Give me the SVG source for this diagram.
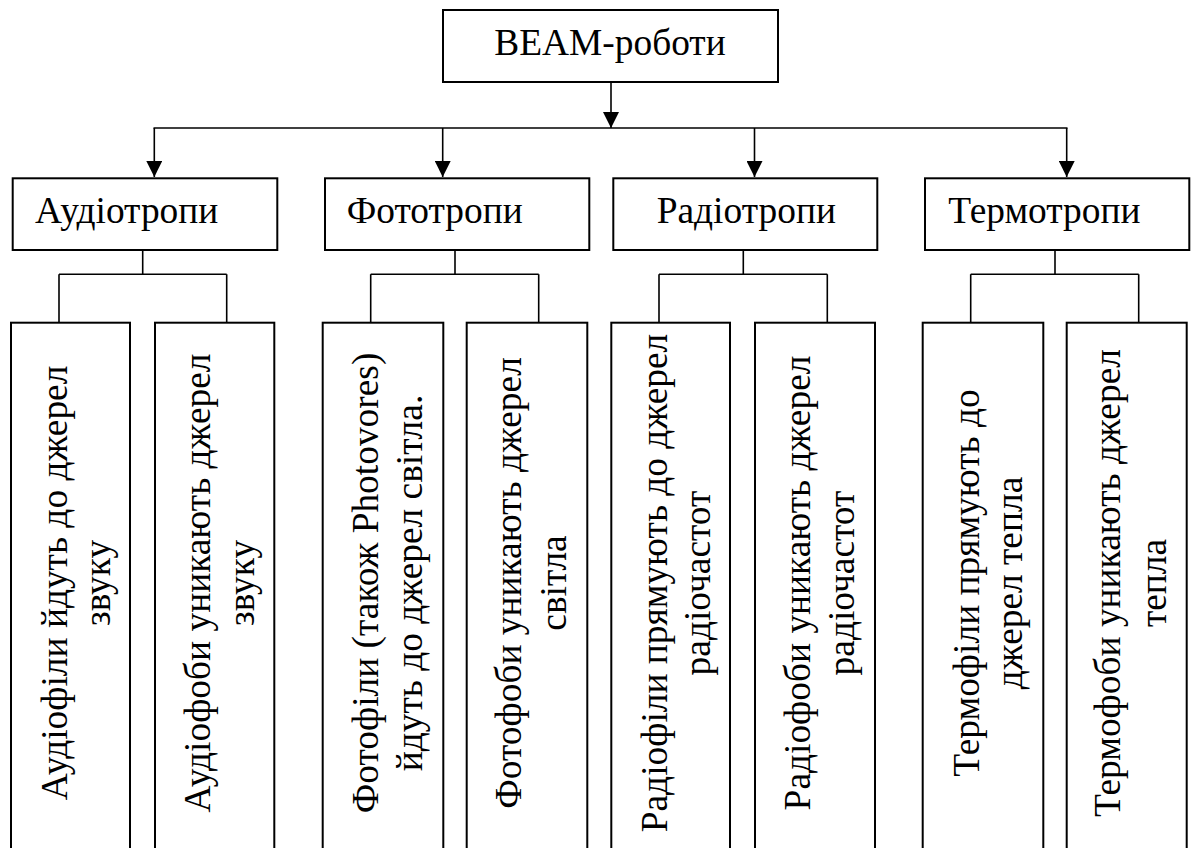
<svg xmlns="http://www.w3.org/2000/svg" width="1197" height="848" viewBox="0 0 1197 848">
<style>
.box{fill:#fff;stroke:#000;stroke-width:2}
.ln{fill:none;stroke:#000;stroke-width:1.6}
.t{font-family:'Liberation Serif','Times New Roman',serif;font-size:37.4px;fill:#000}
.v{text-anchor:middle}
</style>
<defs>
<marker id="arr" markerUnits="userSpaceOnUse" markerWidth="16" markerHeight="16" viewBox="0 0 16 16" refX="8" refY="16" orient="0">
<path d="M0,0 L16,0 L8,16 Z" fill="#000"/>
</marker>
</defs>
<rect width="1197" height="848" fill="#fff"/>
<g id="connectors">
<line class="ln" x1="611" y1="82" x2="611" y2="128" marker-end="url(#arr)"/>
<line class="ln" x1="153.5" y1="128" x2="1067.5" y2="128"/>
<line class="ln" x1="154.3" y1="128" x2="154.3" y2="177" marker-end="url(#arr)"/>
<line class="ln" x1="442.7" y1="128" x2="442.7" y2="177" marker-end="url(#arr)"/>
<line class="ln" x1="754.5" y1="128" x2="754.5" y2="177" marker-end="url(#arr)"/>
<line class="ln" x1="1066.7" y1="128" x2="1066.7" y2="177" marker-end="url(#arr)"/>
<path class="ln" d="M142.7,250 V274.3 M59,274.3 H226.7 M59,274.3 V322.7 M226.7,274.3 V322.7"/>
<path class="ln" d="M455,250 V274.3 M370.7,274.3 H538.7 M370.7,274.3 V322.7 M538.7,274.3 V322.7"/>
<path class="ln" d="M743.3,250 V274.3 M659,274.3 H827.3 M659,274.3 V322.7 M827.3,274.3 V322.7"/>
<path class="ln" d="M1055,250 V274.3 M970.7,274.3 H1138.7 M970.7,274.3 V322.7 M1138.7,274.3 V322.7"/>
</g>
<g id="root">
<rect class="box" x="443" y="10" width="335" height="72"/>
<text class="t v" x="610" y="55">BEAM-роботи</text>
</g>
<g id="audio">
<rect class="box" x="12.7" y="178.3" width="264.6" height="71.7"/>
<text class="t" x="35" y="222.7">Аудіотропи</text>
</g>
<g id="photo">
<rect class="box" x="325" y="178.3" width="264.3" height="71.7"/>
<text class="t" x="346.7" y="222.7">Фототропи</text>
</g>
<g id="radio">
<rect class="box" x="613.3" y="178.3" width="264" height="71.7"/>
<text class="t" x="656.7" y="222.7">Радіотропи</text>
</g>
<g id="thermo">
<rect class="box" x="925" y="178.3" width="264.3" height="71.7"/>
<text class="t" x="948.3" y="222.7">Термотропи</text>
</g>
<g id="audiophiles">
<rect class="box" x="11" y="322.7" width="119" height="540"/>
<text class="t v" transform="translate(66.7,583) rotate(-90)">Аудіофіли йдуть до джерел</text>
<text class="t v" transform="translate(110,583) rotate(-90)">звуку</text>
</g>
<g id="audiophobes">
<rect class="box" x="155" y="322.7" width="119.3" height="540"/>
<text class="t v" transform="translate(210,583) rotate(-90)">Аудіофоби уникають джерел</text>
<text class="t v" transform="translate(254,583) rotate(-90)">звуку</text>
</g>
<g id="photophiles">
<rect class="box" x="322.7" y="322.7" width="120.6" height="540"/>
<text class="t v" transform="translate(378.3,583) rotate(-90)">Фотофіли (також Photovores)</text>
<text class="t v" transform="translate(421.7,583) rotate(-90)">йдуть до джерел світла.</text>
</g>
<g id="photophobes">
<rect class="box" x="466.7" y="322.7" width="120.6" height="540"/>
<text class="t v" transform="translate(521,583) rotate(-90)">Фотофоби уникають джерел</text>
<text class="t v" transform="translate(566,583) rotate(-90)">світла</text>
</g>
<g id="radiophiles">
<rect class="box" x="611.3" y="322.7" width="118.7" height="540"/>
<text class="t v" transform="translate(666.7,583) rotate(-90)">Радіофіли прямують до джерел</text>
<text class="t v" transform="translate(710,583) rotate(-90)">радіочастот</text>
</g>
<g id="radiophobes">
<rect class="box" x="755" y="322.7" width="120" height="540"/>
<text class="t v" transform="translate(810,583) rotate(-90)">Радіофоби уникають джерел</text>
<text class="t v" transform="translate(854,583) rotate(-90)">радіочастот</text>
</g>
<g id="thermophiles">
<rect class="box" x="922.7" y="322.7" width="120.6" height="540"/>
<text class="t v" transform="translate(979,583) rotate(-90)">Термофіли прямують до</text>
<text class="t v" transform="translate(1021.7,583) rotate(-90)">джерел тепла</text>
</g>
<g id="thermophobes">
<rect class="box" x="1066.7" y="322.7" width="120" height="540"/>
<text class="t v" transform="translate(1120,583) rotate(-90)">Термофоби уникають джерел</text>
<text class="t v" transform="translate(1166,583) rotate(-90)">тепла</text>
</g>
</svg>
